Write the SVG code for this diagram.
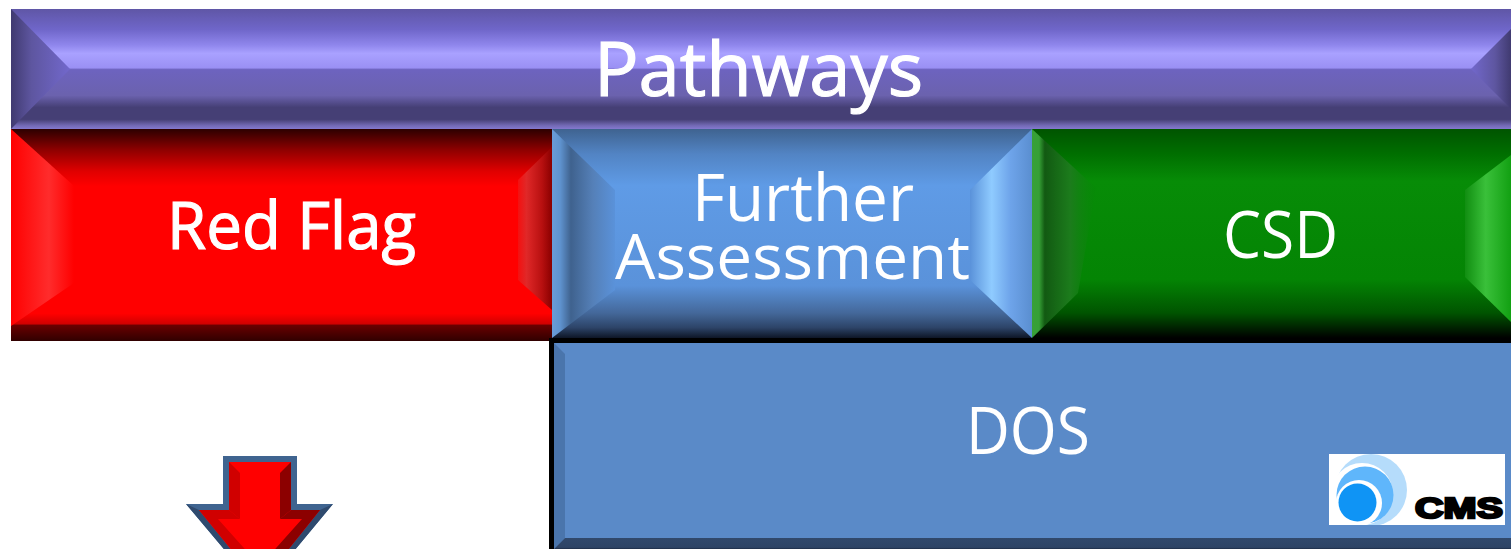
<svg xmlns="http://www.w3.org/2000/svg" width="1511" height="549" viewBox="0 0 1511 549">
<style>
.t{font-family:"Open Sans","Noto Sans","Liberation Sans",sans-serif;fill:#fff;font-size:65px}
.b{stroke:#fff;stroke-width:1.2px}
</style>
<defs>
<linearGradient id="pv" x1="0" y1="0" x2="0" y2="1">
<stop offset="0" stop-color="#5f56a6"/><stop offset=".17" stop-color="#6f66c9"/><stop offset=".3" stop-color="#8f86ec"/><stop offset=".37" stop-color="#a9a1ff"/><stop offset=".49" stop-color="#9a90f4"/><stop offset=".505" stop-color="#6d63bf"/><stop offset=".72" stop-color="#6b62ae"/><stop offset=".82" stop-color="#453f75"/><stop offset=".92" stop-color="#453f75"/><stop offset=".97" stop-color="#7269b4"/><stop offset="1" stop-color="#8479cf"/>
</linearGradient>
<linearGradient id="pl"><stop offset="0" stop-color="#403a70"/><stop offset=".35" stop-color="#5e56a0"/><stop offset="1" stop-color="#7268cc"/></linearGradient>
<linearGradient id="pr"><stop offset="0" stop-color="#7268cc"/><stop offset=".6" stop-color="#5e56a0"/><stop offset="1" stop-color="#403a70"/></linearGradient>
<linearGradient id="rv" x1="0" y1="0" x2="0" y2="1">
<stop offset="0" stop-color="#2c0000"/><stop offset=".1" stop-color="#8f0000"/><stop offset=".2" stop-color="#e00000"/><stop offset=".27" stop-color="#f00"/><stop offset=".87" stop-color="#f00"/><stop offset=".92" stop-color="#d00000"/><stop offset=".925" stop-color="#6a0000"/><stop offset="1" stop-color="#300000"/>
</linearGradient>
<linearGradient id="rl"><stop offset="0" stop-color="#f00"/><stop offset=".6" stop-color="#ff2c2c"/><stop offset="1" stop-color="#f00"/></linearGradient>
<linearGradient id="rr"><stop offset="0" stop-color="#f41010"/><stop offset=".25" stop-color="#e02828"/><stop offset=".7" stop-color="#b81010"/><stop offset="1" stop-color="#8a0000"/></linearGradient>
<linearGradient id="bv" x1="0" y1="0" x2="0" y2="1">
<stop offset="0" stop-color="#3f6390"/><stop offset=".12" stop-color="#5284c4"/><stop offset=".27" stop-color="#5f9be6"/><stop offset=".75" stop-color="#5a92da"/><stop offset=".88" stop-color="#44689a"/><stop offset=".95" stop-color="#2d4468"/><stop offset="1" stop-color="#0e1626"/>
</linearGradient>
<linearGradient id="bl"><stop offset="0" stop-color="#6a9cd8"/><stop offset=".13" stop-color="#5f93cf"/><stop offset=".3" stop-color="#3f628e"/><stop offset=".65" stop-color="#5580b8"/><stop offset="1" stop-color="#5a92da"/></linearGradient>
<linearGradient id="br"><stop offset="0" stop-color="#5a92da"/><stop offset=".35" stop-color="#8fcbff"/><stop offset=".65" stop-color="#6ea4ea"/><stop offset="1" stop-color="#5a8ed0"/></linearGradient>
<linearGradient id="gv" x1="0" y1="0" x2="0" y2="1">
<stop offset="0" stop-color="#005400"/><stop offset=".12" stop-color="#006f00"/><stop offset=".25" stop-color="#078c07"/><stop offset=".72" stop-color="#048404"/><stop offset=".88" stop-color="#005400"/><stop offset="1" stop-color="#000"/>
</linearGradient>
<linearGradient id="gl"><stop offset="0" stop-color="#38a038"/><stop offset=".11" stop-color="#36a036"/><stop offset=".2" stop-color="#125a12"/><stop offset=".6" stop-color="#1c7c1c"/><stop offset="1" stop-color="#068806" stop-opacity=".3"/></linearGradient>
<linearGradient id="gr"><stop offset="0" stop-color="#118e11"/><stop offset=".45" stop-color="#3ac03a"/><stop offset="1" stop-color="#12a012"/></linearGradient>
<linearGradient id="dv" x1="0" y1="0" x2="0" y2="1">
<stop offset="0" stop-color="#31496c"/><stop offset=".85" stop-color="#2e4466"/><stop offset="1" stop-color="#1e2c46"/>
</linearGradient>
<clipPath id="lc"><rect x="1329" y="454" width="176" height="71"/></clipPath>
</defs>
<rect width="1511" height="549" fill="#fff"/>

<g id="pathways">
<rect x="11" y="9" width="1500" height="120" fill="url(#pv)"/>
<polygon points="11,9 70,69 11,129" fill="url(#pl)"/>
<polygon points="1511,29 1471,69 1511,109" fill="url(#pr)"/>
<text x="594" y="96" class="t b" style="font-size:75px" textLength="329" lengthAdjust="spacingAndGlyphs">Pathways</text>
</g>

<g id="red-flag">
<rect x="11" y="129" width="541" height="212" fill="url(#rv)"/>
<polygon points="11,129 74,186 74,283 11,326" fill="url(#rl)"/>
<polygon points="552,147 518,180 518,280 552,310" fill="url(#rr)"/>
<text x="167" y="249" class="t b" textLength="249" lengthAdjust="spacingAndGlyphs">Red Flag</text>
</g>

<g id="further-assessment">
<rect x="552" y="129" width="480" height="209" fill="url(#bv)"/>
<polygon points="552,129 615,190 615,290 552,338" fill="url(#bl)"/>
<polygon points="1032,129 970,190 970,280 1032,338" fill="url(#br)"/>
<text x="692" y="221" class="t" textLength="222" lengthAdjust="spacingAndGlyphs">Further</text>
<text x="615" y="279" class="t" style="font-size:63px" textLength="355" lengthAdjust="spacingAndGlyphs">Assessment</text>
</g>

<g id="csd">
<rect x="1032" y="129" width="479" height="209" fill="url(#gv)"/>
<polygon points="1032,129 1096,188 1078,293 1032,338" fill="url(#gl)"/>
<polygon points="1511,155 1465,190 1465,277 1511,322" fill="url(#gr)"/>
<text x="1223" y="258" class="t" textLength="115" lengthAdjust="spacingAndGlyphs">CSD</text>
</g>

<g id="dos">
<rect x="549" y="338" width="962" height="211" fill="#000"/>
<rect x="554" y="343" width="957" height="206" fill="#5a8ac8"/>
<polygon points="554,343 565,354 565,538 554,549" fill="#4a75ac"/>
<polygon points="554,549 565,538 1511,538 1511,549" fill="url(#dv)"/>
<text x="966" y="454" class="t" textLength="124" lengthAdjust="spacingAndGlyphs">DOS</text>
</g>

<g id="cms-logo">
<rect x="1329" y="454" width="176" height="71" fill="#fff"/>
<g clip-path="url(#lc)">
<circle cx="1371" cy="490" r="36" fill="#b5dcfb"/>
<circle cx="1362" cy="494" r="31" fill="#fff"/>
<circle cx="1365" cy="495" r="28.500" fill="#5fb6fb"/>
<circle cx="1359" cy="503" r="23" fill="#fff"/>
<circle cx="1357.500" cy="502.500" r="19" fill="#0f94f5"/>
</g>
<text x="1415" y="517.500" font-family="'Liberation Sans',sans-serif" font-weight="700" font-size="29" fill="#000" stroke="#000" stroke-width="2.400" textLength="88" lengthAdjust="spacingAndGlyphs">CMS</text>
</g>

<g id="down-arrow">
<polygon points="223,456 297,456 297,504 333,504 260,592 186,504 223,504" fill="#3f6490"/>
<polygon points="186,504 199,510 260,585 260,592" fill="#2f4a6e"/>
<polygon points="333,504 320,510 260,585 260,592" fill="#2f4a6e"/>
<polygon points="229,462 291,462 291,510 320,510 260,585 199,510 229,510" fill="#f00"/>
<polygon points="229,462 240,473 240,519 229,510" fill="#d00000"/>
<polygon points="291,462 280,473 280,519 291,510" fill="#8c0000"/>
<polygon points="199,510 229,510 240,519 218,519 260,566 260,585" fill="#d00000"/>
<polygon points="320,510 291,510 280,519 302,519 260,566 260,585" fill="#8c0000"/>
</g>
</svg>
